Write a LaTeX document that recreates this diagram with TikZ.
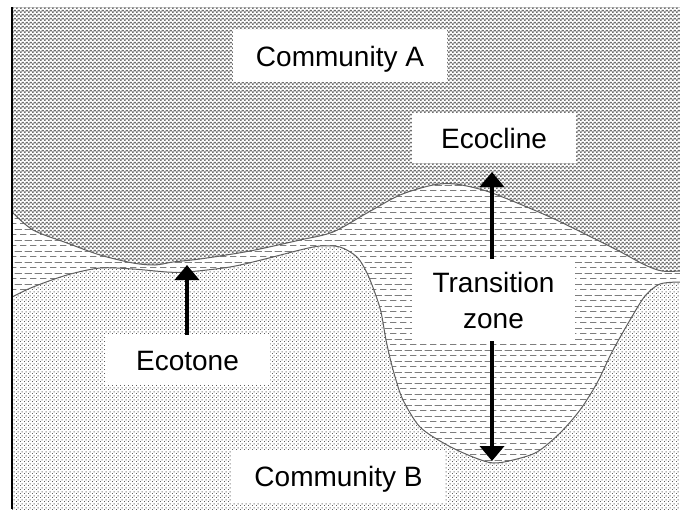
\documentclass[tikz,border=0pt]{standalone}
\usepackage{fontspec}
\setmainfont{Liberation Sans}
\usetikzlibrary{patterns,arrows.meta}
\definecolor{chk}{RGB}{112,112,112}
\definecolor{dotc}{RGB}{95,95,95}
\definecolor{dsh}{RGB}{125,125,125}
\definecolor{edgec}{RGB}{95,95,95}

\pgfdeclarepatterninherentlycolored{commA}{\pgfpointorigin}{\pgfqpoint{4pt}{4pt}}{\pgfqpoint{4pt}{4pt}}{%
  \pgfsetfillcolor{chk}%
  \pgfpathrectangle{\pgfpointorigin}{\pgfqpoint{2pt}{2pt}}%
  \pgfpathrectangle{\pgfqpoint{2pt}{2pt}}{\pgfqpoint{2pt}{2pt}}%
  \pgfusepath{fill}}
\pgfdeclarepatterninherentlycolored{commB}{\pgfpointorigin}{\pgfqpoint{4pt}{4pt}}{\pgfqpoint{4pt}{4pt}}{%
  \pgfsetfillcolor{dotc}%
  \pgfpathrectangle{\pgfpointorigin}{\pgfqpoint{1.2pt}{1.2pt}}%
  \pgfpathrectangle{\pgfqpoint{2pt}{2pt}}{\pgfqpoint{1.2pt}{1.2pt}}%
  \pgfusepath{fill}}
\pgfdeclarepatterninherentlycolored{transZ}{\pgfpointorigin}{\pgfqpoint{10pt}{11pt}}{\pgfqpoint{10pt}{11pt}}{%
  \pgfsetfillcolor{dsh}%
  \pgfpathrectangle{\pgfqpoint{0pt}{0pt}}{\pgfqpoint{7pt}{1pt}}%
  \pgfpathrectangle{\pgfqpoint{5pt}{5.5pt}}{\pgfqpoint{5pt}{1pt}}%
  \pgfpathrectangle{\pgfqpoint{0pt}{5.5pt}}{\pgfqpoint{2pt}{1pt}}%
  \pgfusepath{fill}}

\begin{document}
\begin{tikzpicture}[x=1pt,y=-1pt,
  lbl/.style={fill=white, inner sep=0pt, outer sep=0pt,
    font=\fontsize{28}{36}\selectfont, text height=20pt, text depth=0pt},
  arr/.style={line width=4pt, -{Triangle[width=24pt,length=15pt]}},
  boundary/.style={draw=edgec, line width=1pt}]
\fill[white] (0,0) rectangle (680,509);
\useasboundingbox (0,0) rectangle (680,509);
\def\upperpts{(12,212) (33,230) (67,243) (100,255) (133,263) (155,265) (173,262) (200,259) (250,251) (300,240) (333,232) (367,213) (400,195) (433,185) (455,184) (483,190) (510,200) (550,217) (583,233) (617,250) (645,265) (662,271) (680,271)}
\def\lowerpts{(12,297) (33,287) (67,275) (100,268) (133,269) (167,272) (187,272) (230,267) (265,259) (300,250) (320,246) (340,247) (357,257) (367,273) (375,293) (381,312) (386,340) (391,362) (396,380) (403,400) (420,427) (447,445) (473,457) (493,463) (513,460) (537,452) (560,433) (580,410) (597,383) (612,352) (630,320) (645,296) (660,284) (680,282)}
% Community B background
\path[pattern=commB] (12,7) rectangle (680,509);
% transition zone
\path[preaction={fill=white}, pattern=transZ] plot[smooth, tension=0.5] coordinates {\lowerpts} -- (680,7) -- (12,7) -- cycle;
% Community A
\path[preaction={fill=white}, pattern=commA] plot[smooth, tension=0.5] coordinates {\upperpts} -- (680,7) -- (12,7) -- cycle;
\draw[boundary] plot[smooth, tension=0.5] coordinates {\upperpts};
\draw[boundary] plot[smooth, tension=0.5] coordinates {\lowerpts};
\draw[black, line width=1.2pt] (12,7) -- (12,509);

% labels
\node[lbl, minimum width=214pt, minimum height=52pt] (comA) at (340,56) {Community A};
\node[lbl, minimum width=164pt, minimum height=50pt] (ecocline) at (494,138) {Ecocline};
\node[fill=white, inner sep=0pt, outer sep=0pt, font=\fontsize{28}{36}\selectfont, align=center,
  minimum width=163pt, minimum height=82pt] (trans) at (493.5,300) {Transition\\zone};
\node[lbl, minimum width=165pt, minimum height=50pt] (ecotone) at (187.5,360) {Ecotone};
\node[lbl, minimum width=213pt, minimum height=52pt] (comB) at (338.5,476) {Community B};

% arrows
\coordinate (ecotoneTip) at (187,265);
\coordinate (eclTip) at (492,172);
\coordinate (zoneTip) at (492,461);
\draw[arr] (ecotone.north -| ecotoneTip) -- (ecotoneTip);
\draw[arr] (trans.north -| eclTip) -- (eclTip);
\draw[arr] (trans.south -| zoneTip) -- (zoneTip);
\end{tikzpicture}
\end{document}
